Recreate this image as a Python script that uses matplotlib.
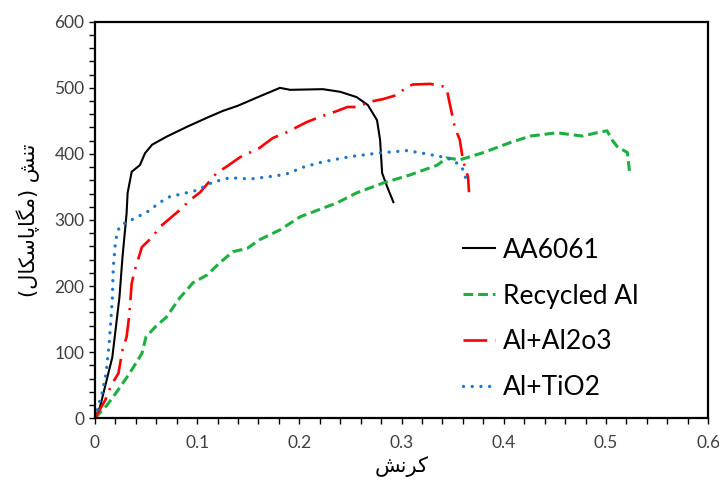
import matplotlib
matplotlib.use("Agg")
import matplotlib.pyplot as plt
from matplotlib.ticker import MultipleLocator

# Data (strain, stress MPa)
aa6061_x = [0, 0.005, 0.017, 0.024, 0.027, 0.031, 0.032, 0.036, 0.044, 0.049, 0.056, 0.070, 0.090, 0.110,
            0.125, 0.140, 0.158, 0.178, 0.181, 0.191, 0.223, 0.240, 0.256, 0.267, 0.276, 0.279, 0.281, 0.286, 0.292]
aa6061_y = [0, 17, 92, 183, 244, 310, 341, 373, 383, 401, 414, 426, 441, 455,
            465, 473, 485, 498, 500, 497, 498, 494, 486, 474, 451, 421, 371, 350, 327]

recycled_x = [0, 0.012, 0.021, 0.034, 0.046, 0.050, 0.059, 0.070, 0.083, 0.096, 0.110, 0.122, 0.135, 0.149,
              0.161, 0.181, 0.201, 0.213, 0.237, 0.256, 0.282, 0.308, 0.335, 0.344, 0.357, 0.380, 0.406,
              0.426, 0.452, 0.477, 0.491, 0.501, 0.506, 0.511, 0.521, 0.523]
recycled_y = [0, 20, 39, 68, 98, 123, 138, 153, 182, 205, 217, 235, 252, 257,
              270, 285, 305, 312, 326, 341, 356, 368, 383, 394, 391, 402, 417,
              427, 432, 427, 432, 435, 421, 411, 402, 373]

al2o3_x = [0, 0.010, 0.016, 0.023, 0.027, 0.031, 0.033, 0.034, 0.036, 0.039, 0.046, 0.056, 0.064, 0.083,
           0.093, 0.103, 0.119, 0.130, 0.142, 0.161, 0.174, 0.188, 0.207, 0.220, 0.237, 0.247, 0.256,
           0.269, 0.282, 0.295, 0.306, 0.311, 0.328, 0.341, 0.344, 0.347, 0.352, 0.357, 0.360, 0.365, 0.366]
al2o3_y = [0, 27, 50, 68, 103, 123, 148, 164, 204, 224, 259, 274, 290, 315,
           330, 342, 371, 382, 395, 409, 424, 433, 448, 456, 465, 471, 471,
           479, 483, 489, 502, 505, 506, 502, 500, 477, 441, 421, 391, 365, 342]

tio2_x = [0, 0.007, 0.011, 0.014, 0.017, 0.018, 0.020, 0.022, 0.025, 0.033, 0.051, 0.064, 0.073, 0.100,
          0.115, 0.132, 0.152, 0.178, 0.188, 0.204, 0.223, 0.250, 0.276, 0.305, 0.321, 0.338, 0.350, 0.359, 0.364]
tio2_y = [0, 38, 68, 114, 179, 229, 265, 282, 292, 298, 312, 327, 335, 345,
          357, 364, 362, 367, 370, 380, 388, 396, 401, 405, 401, 396, 391, 380, 358]

labels = ["AA6061", "Recycled Al", "Al+Al2o3", "Al+TiO2"]

# Persian labels, pre-shaped (presentation forms, visual order)
xlabel_fa = "\uFEB6\uFEE7\uFEAE\uFB90"  # کرنش
ylabel_fa = "(\uFEDD\uFE8E\uFB91\uFEB3\uFE8E\uFB58\uFE8E\uFB95\uFEE3) \uFEB6\uFEE8\uFE97"  # تنش (مگاپاسکال)

plt.rcParams['font.family'] = ['Lato', 'DejaVu Sans']

fig = plt.figure(figsize=(7.19, 4.84), dpi=100)
ax = fig.add_axes([0.132, 0.136, 0.853, 0.819])

ax.plot(aa6061_x, aa6061_y, color='black', lw=1.5, label=labels[0])
l2, = ax.plot(recycled_x, recycled_y, color='#1DB040', lw=2.2, label=labels[1])
l2.set_dashes((3.2, 1.6))
l3, = ax.plot(al2o3_x, al2o3_y, color='#FF0000', lw=1.9, label=labels[2])
l3.set_dashes((9, 3, 0.8, 3))
l4, = ax.plot(tio2_x, tio2_y, color='#1F77C8', lw=2.4, label=labels[3])
l4.set_dashes((0.01, 2.6))
l4.set_dash_capstyle('round')

ax.set_xlim(0, 0.6)
ax.set_ylim(0, 600)
ax.xaxis.set_major_locator(MultipleLocator(0.1))
ax.xaxis.set_minor_locator(MultipleLocator(0.02))
ax.yaxis.set_major_locator(MultipleLocator(100))
ax.yaxis.set_minor_locator(MultipleLocator(20))
ax.set_xticks([0, 0.1, 0.2, 0.3, 0.4, 0.5, 0.6])
ax.set_xticklabels(["0", "0.1", "0.2", "0.3", "0.4", "0.5", "0.6"])
ax.tick_params(which='both', direction='out', length=4, width=1, labelsize=12.5,
               color='black', labelcolor='#404040')
ax.tick_params(axis='x', pad=8)
for s in ax.spines.values():
    s.set_linewidth(1.6)

ax.set_xlabel(xlabel_fa, fontsize=15, family=['DejaVu Sans'], labelpad=4)
ax.set_ylabel(ylabel_fa, fontsize=15, family=['DejaVu Sans'], labelpad=10)

leg = ax.legend(loc='upper left', bbox_to_anchor=(0.583, 0.482), frameon=False, fontsize=19,
                handlelength=1.2, handletextpad=0.3, labelspacing=0.79, borderaxespad=0)

fig.savefig("out.png", dpi=100)
